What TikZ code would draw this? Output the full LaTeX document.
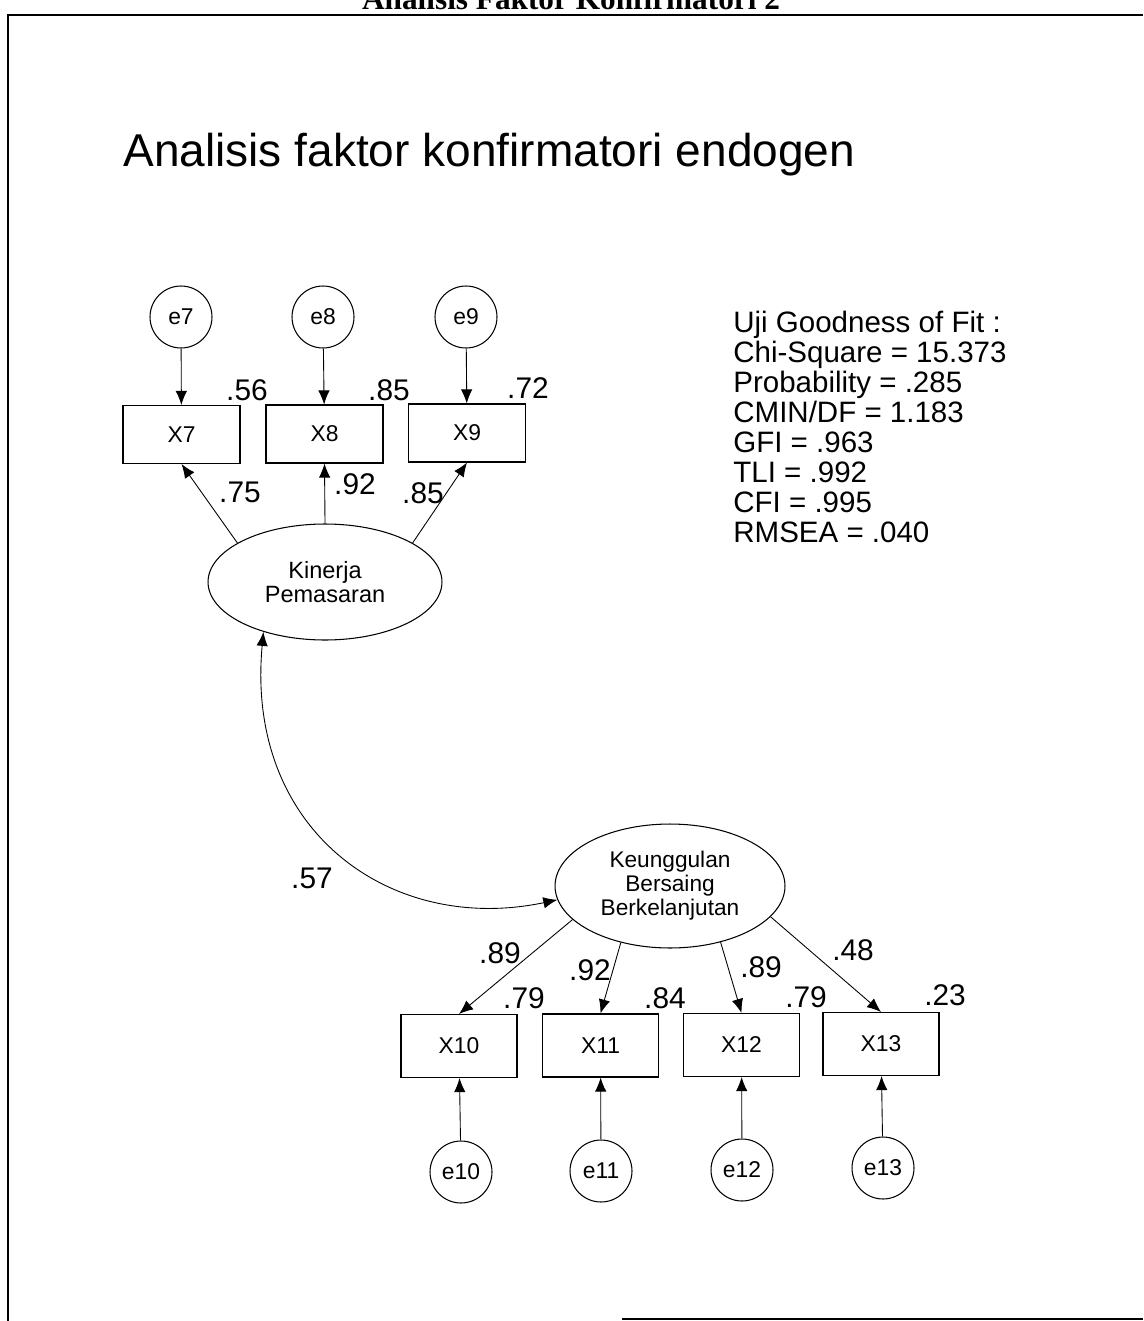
\documentclass[tikz,border=0pt]{standalone}
\usepackage{fontspec}
\setmainfont{Liberation Sans}
\newfontfamily\hdrfont{Liberation Serif}
\usetikzlibrary{arrows.meta,shapes.geometric}
\begin{document}
\begin{tikzpicture}[x=0.02cm,y=-0.02cm,
  obs/.style={draw, line width=0.6pt, rectangle, minimum width=2.34cm, minimum height=1.16cm, inner sep=0pt, font=\fontsize{13}{15}\selectfont},
  obsb/.style={obs, minimum width=2.32cm, minimum height=1.26cm},
  err/.style={draw, circle, line width=0.6pt, minimum size=1.24cm, inner sep=0pt, font=\fontsize{13}{15}\selectfont},
  lat/.style={draw, ellipse, line width=0.6pt, inner sep=0pt, align=center},
  num/.style={font=\fontsize{17}{17}\selectfont, inner sep=0pt},
  fit/.style={font=\fontsize{16.8}{17}\selectfont, inner sep=0pt, anchor=base west},
  reg/.style={-{Latex[length=8pt,width=6.5pt]}, line width=0.5pt},
  cov/.style={{Latex[length=8pt,width=6.5pt]}-{Latex[length=8pt,width=6.5pt]}, line width=0.5pt}
]
\useasboundingbox (0,0) rectangle (1143,1321);
% frame
\draw[line width=1.1pt] (8,1321) -- (8,15) -- (1143,15);
\draw[line width=1.1pt] (622,1319) -- (1143,1319);
\node[anchor=base, inner sep=0pt, font=\hdrfont\bfseries\fontsize{17.8}{18}\selectfont] (hdr) at (571,10) {Analisis Faktor Konfirmatori 2};

% title
\node[anchor=base west, inner sep=0pt, font=\fontsize{26.2}{28}\selectfont] (title) at (123,167) {Analisis faktor konfirmatori endogen};

% upper part
\node[err] (e7) at (181,317) {e7};
\node[err] (e8) at (323,317) {e8};
\node[err] (e9) at (466,317) {e9};
\node[obs] (X7) at (181.5,434.5) {X7};
\node[obs] (X8) at (324.5,434) {X8};
\node[obs] (X9) at (467,433) {X9};
\node[lat, minimum width=4.68cm, minimum height=2.32cm, font=\fontsize{13.4}{13.4}\selectfont] (Kin) at (325,582) {Kinerja\\Pemasaran};

\draw[reg] (e7) -- (X7);
\draw[reg] (e8) -- (X8);
\draw[reg] (e9) -- (X9);
\draw[reg] (Kin.156) -- (X7.south);
\draw[reg] (Kin.90) -- (X8.south);
\draw[reg] (Kin.24) -- (X9.south);

\node[num] (r7) at (247,390) {.56};
\node[num] (r8) at (389,390) {.85};
\node[num] (r9) at (528,388) {.72};
\node[num] (l7) at (240,492) {.75};
\node[num] (l8) at (355,484) {.92};
\node[num] (l9) at (423,493) {.85};

% fit statistics
\node[fit] (f1) at (733,332) {Uji Goodness of Fit :};
\node[fit] (f2) at (733,362) {Chi-Square = 15.373};
\node[fit] (f3) at (733,392) {Probability = .285};
\node[fit] (f4) at (733,422) {CMIN/DF = 1.183};
\node[fit] (f5) at (733,452) {GFI = .963};
\node[fit] (f6) at (733,482) {TLI = .992};
\node[fit] (f7) at (733,512) {CFI = .995};
\node[fit] (f8) at (733,542) {RMSEA = .040};

% lower part
\node[lat, minimum width=4.6cm, minimum height=2.48cm, font=\fontsize{12.9}{13.7}\selectfont] (Keu) at (670,886) {Keunggulan\\Bersaing\\Berkelanjutan};
\node[obsb] (X10) at (459,1046) {X10};
\node[obsb] (X11) at (600.5,1045.5) {X11};
\node[obsb] (X12) at (741.5,1045) {X12};
\node[obsb] (X13) at (881,1044) {X13};
\node[err] (e10) at (461,1172) {e10};
\node[err] (e11) at (601,1171) {e11};
\node[err] (e12) at (742,1170) {e12};
\node[err] (e13) at (883,1168) {e13};

\draw[reg] (e10) -- (X10);
\draw[reg] (e11) -- (X11);
\draw[reg] (e12) -- (X12);
\draw[reg] (e13) -- (X13);
\draw[reg] (Keu.199) -- (X10.north);
\draw[reg] (Keu.229) -- (X11.north);
\draw[reg] (Keu.312) -- (X12.north);
\draw[reg] (Keu.343) -- (X13.north);

\node[num] (l10) at (500,953) {.89};
\node[num] (l11) at (590,970) {.92};
\node[num] (l12) at (761,967) {.89};
\node[num] (l13) at (853,950) {.48};
\node[num] (r10) at (524,998) {.79};
\node[num] (r11) at (665,998) {.84};
\node[num] (r12) at (806,997) {.79};
\node[num] (r13) at (945,995) {.23};

% covariance
\draw[cov] (Kin.219) .. controls (245,830) and (390,935) .. (Keu.187);
\node[num] (c57) at (312,878) {.57};
\end{tikzpicture}
\end{document}
